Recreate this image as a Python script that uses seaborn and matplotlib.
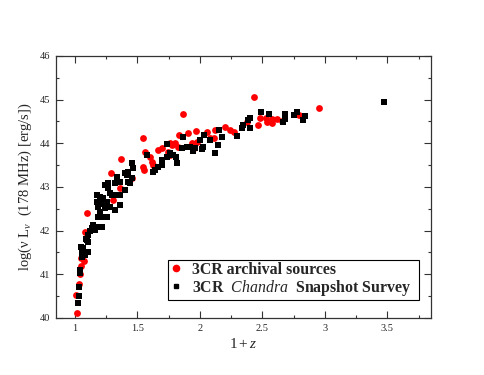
import numpy as np
import pandas as pd
import matplotlib
matplotlib.use("Agg")
import matplotlib.pyplot as plt
import seaborn as sns
from matplotlib.ticker import MultipleLocator
from matplotlib.lines import Line2D

# ---- data ----
red_z1 = [1.02, 1.013, 1.03, 1.045, 1.048, 1.048, 1.056, 1.067, 1.075, 1.06, 1.08, 1.099,
          1.286, 1.307, 1.36, 1.454, 1.366, 1.542, 1.561, 1.601, 1.615, 1.628, 1.668, 1.542,
          1.555, 1.775, 1.801, 1.836, 1.868, 1.908, 1.97, 2.055, 2.12, 2.20, 2.24, 2.27,
          1.76, 1.828, 1.935, 1.975, 2.08, 2.11, 1.95, 1.695, 1.748, 1.761,
          2.437, 2.955, 2.48, 2.53, 2.576, 2.616, 2.656, 2.576, 2.536, 2.469, 2.376, 2.79]
red_L = [40.12, 40.53, 40.77, 41.00, 41.20, 41.37, 41.50, 41.51, 41.31, 41.39, 41.96, 42.41,
         43.33, 42.70, 42.97, 43.20, 43.65, 44.11, 43.81, 43.69, 43.58, 43.50, 43.84, 43.46,
         43.39, 43.96, 44.00, 44.19, 44.66, 44.23, 44.28, 44.26, 44.30, 44.38, 44.30, 44.26,
         44.00, 43.92, 44.00, 44.04, 44.11, 44.11, 43.88, 43.88, 43.81, 43.73,
         45.05, 44.81, 44.57, 44.57, 44.55, 44.55, 44.52, 44.46, 44.49, 44.42, 44.49, 44.65]

blk_z1 = [1.024, 1.03, 1.03, 1.04, 1.04, 1.054, 1.05, 1.08, 1.107, 1.067, 1.08, 1.054,
          1.086, 1.094, 1.107, 1.107, 1.12, 1.134, 1.147, 1.16, 1.187, 1.214, 1.187, 1.214,
          1.20, 1.254, 1.187, 1.24, 1.28, 1.32, 1.36, 1.174, 1.214, 1.254, 1.174, 1.20,
          1.227, 1.36, 1.40, 1.24, 1.267, 1.28, 1.334, 1.44, 1.32, 1.36, 1.427, 1.454,
          1.294, 1.347, 1.40, 1.414, 1.427, 1.454, 1.467, 1.574, 1.628, 1.641, 1.668, 1.695,
          1.695, 1.735, 1.761, 1.81, 1.695, 1.735, 1.761, 1.788, 1.815, 1.855, 1.895, 1.868,
          1.948, 1.962, 2.015, 2.028, 2.03, 2.08, 2.12, 2.148, 2.156, 2.175, 2.296, 2.336,
          2.349, 2.40, 2.389, 2.40, 2.488, 2.557, 2.664, 2.683, 2.683, 2.755, 2.781, 2.824,
          2.843, 3.47, 1.92, 2.0, 1.267]
blk_L = [40.34, 40.50, 40.72, 41.10, 41.03, 41.40, 41.62, 41.44, 41.50, 41.60, 41.48, 41.48,
         41.81, 41.78, 41.75, 41.90, 41.98, 42.05, 42.13, 42.01, 42.09, 42.09, 42.32, 42.32,
         42.43, 42.32, 42.55, 42.51, 42.55, 42.47, 42.59, 42.66, 42.62, 42.66, 42.81, 42.78,
         42.74, 42.81, 42.93, 43.04, 42.97, 42.85, 43.23, 43.08, 43.08, 43.12, 43.12, 43.20,
         42.81, 42.81, 43.31, 43.27, 43.35, 43.54, 43.43, 43.73, 43.35, 43.39, 43.46, 43.58,
         43.50, 43.98, 43.73, 43.69, 43.62, 43.69, 43.77, 43.73, 43.54, 43.88, 43.92, 44.15,
         43.82, 43.88, 43.87, 43.92, 44.19, 44.07, 43.77, 43.97, 44.30, 44.15, 44.17, 44.34,
         44.42, 44.36, 44.53, 44.57, 44.72, 44.68, 44.49, 44.55, 44.66, 44.65, 44.72, 44.53,
         44.62, 44.94, 43.92, 44.07, 43.08]

label_red = "3CR archival sources"
label_blk = r"3CR  $\mathit{Chandra}$  Snapshot Survey"
x_ticks = [1, 1.5, 2, 2.5, 3, 3.5]
y_ticks = [40, 41, 42, 43, 44, 45, 46]

# ---- style ----
sns.set_style("ticks")
plt.rcParams["font.family"] = ["Liberation Serif", "DejaVu Serif"]
plt.rcParams["mathtext.fontset"] = "custom"
plt.rcParams["mathtext.rm"] = "Liberation Serif"
plt.rcParams["mathtext.it"] = "Liberation Serif:italic"
plt.rcParams["mathtext.bf"] = "Liberation Serif:bold"

fig = plt.figure(figsize=(4.85, 3.75), dpi=100)
ax = fig.add_axes([0.1155, 0.152, 0.7735, 0.699])

df_red = pd.DataFrame({"z1": red_z1, "L": red_L})
df_blk = pd.DataFrame({"z1": blk_z1, "L": blk_L})

sns.scatterplot(data=df_red, x="z1", y="L", ax=ax, color="#ff0000", marker="o",
                s=24, linewidth=0, legend=False, zorder=3)
sns.scatterplot(data=df_blk, x="z1", y="L", ax=ax, color="black", marker="s",
                s=17, linewidth=0, legend=False, zorder=4)

ax.set_xlim(0.85, 3.85)
ax.set_ylim(40, 46)
ax.set_xticks(x_ticks)
ax.set_xticklabels([f"{t:g}" for t in x_ticks])
ax.set_yticks(y_ticks)
ax.set_yticklabels([str(t) for t in y_ticks])
ax.xaxis.set_minor_locator(MultipleLocator(0.25))
ax.yaxis.set_minor_locator(MultipleLocator(0.5))
ax.tick_params(which="both", direction="in", top=True, right=True,
               labelsize=7.5, width=0.8, color="#333333", pad=4)
ax.tick_params(which="major", length=5)
ax.tick_params(which="minor", length=2.5)
for sp in ax.spines.values():
    sp.set_linewidth(0.9)
    sp.set_color("#333333")
    sp.set_visible(True)

ax.set_xlabel(r"$1 + z$", fontsize=11, labelpad=3)
ax.set_ylabel(r"log(ν L$_{\nu}$  (178 MHz) [erg/s])", fontsize=10.5, labelpad=4)

handles = [
    Line2D([], [], linestyle="none", marker="o", color="#ff0000", markersize=4.5),
    Line2D([], [], linestyle="none", marker="s", color="black", markersize=3.5),
]
leg = ax.legend(handles, [label_red, label_blk], loc="lower left",
                bbox_to_anchor=(0.299, 0.069, 0.669, 0.145), mode="expand",
                frameon=True, fancybox=False, framealpha=1, edgecolor="black",
                prop={"family": "Liberation Serif", "weight": "bold", "size": 11.4},
                handlelength=0.8, handletextpad=0.6, borderpad=0.12,
                labelspacing=0.02, borderaxespad=0)
leg.get_frame().set_linewidth(0.8)

fig.savefig("out.png", dpi=100)
